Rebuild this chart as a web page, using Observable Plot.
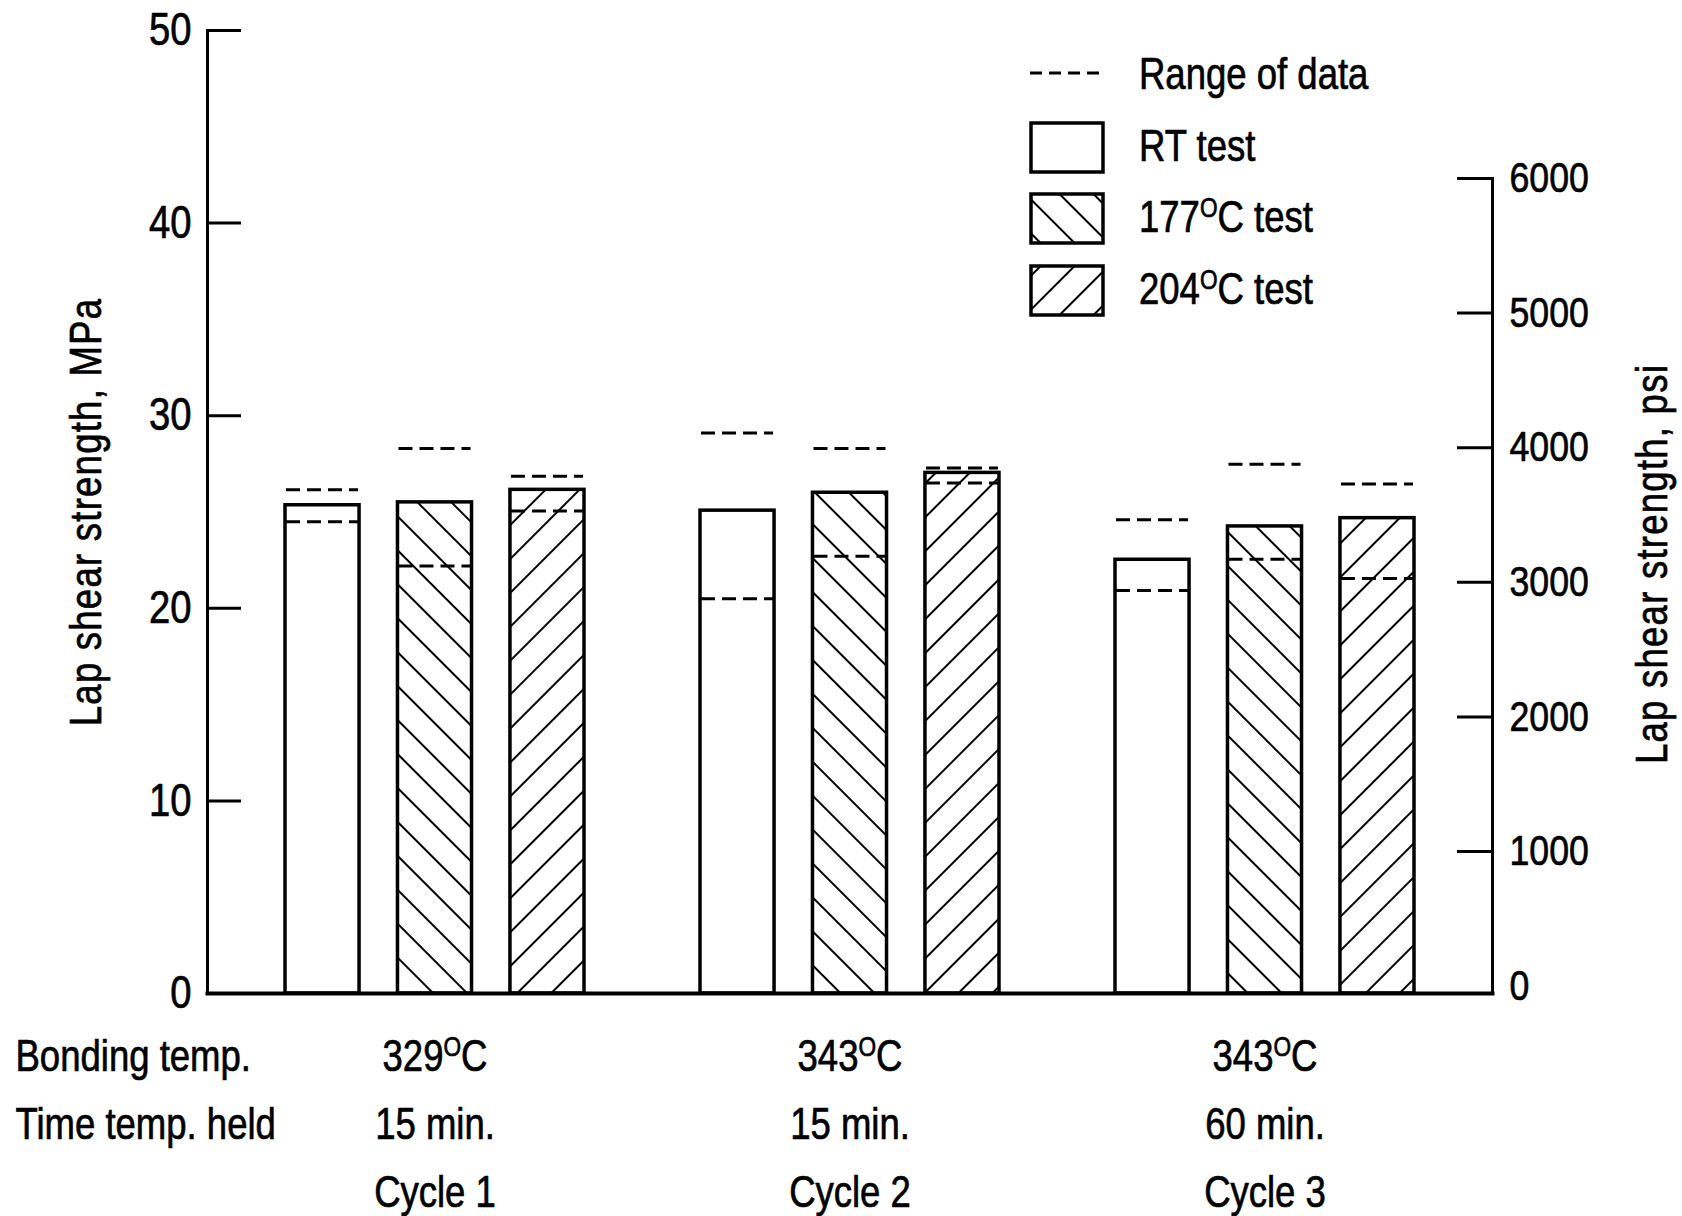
<!DOCTYPE html>
<html><head><meta charset="utf-8">
<script src="https://cdn.jsdelivr.net/npm/d3@7"></script>
<script src="https://cdn.jsdelivr.net/npm/@observablehq/plot@0.6"></script>
<style>
body{margin:0;background:#fff;}
#wrap{position:relative;width:1682px;height:1216px;background:#fff;}
#legend{position:absolute;left:0;top:0;pointer-events:none;}
#wrap text{stroke:#000;stroke-width:0.7px;}
</style></head><body>
<svg width="0" height="0" style="position:absolute">
<defs>
<pattern id="hatch177" patternUnits="userSpaceOnUse" width="24" height="24" patternTransform="rotate(-45)"><rect width="24" height="24" fill="#fff"/><line x1="12" y1="-2" x2="12" y2="26" stroke="#000" stroke-width="2"/></pattern>
<pattern id="hatch204" patternUnits="userSpaceOnUse" width="24" height="24" patternTransform="rotate(45)"><rect width="24" height="24" fill="#fff"/><line x1="12" y1="-2" x2="12" y2="26" stroke="#000" stroke-width="2"/></pattern>
</defs></svg>
<div id="wrap"></div>
<script>
// ---- data (MPa) ----
const cycles = ["Cycle 1", "Cycle 2", "Cycle 3"];
const bondTemp = ["329", "343", "343"];
const holdTime = ["15 min.", "15 min.", "60 min."];
const tests = ["RT test", "177°C test", "204°C test"];
const rtMean = [25.35, 25.07, 22.52];
const rtHigh = [26.15, 29.1, 24.6];
const rtLow = [24.5, 20.5, 20.93];
const t177Mean = [25.5, 26.0, 24.25];
const t177High = [28.3, 28.3, 27.48];
const t177Low = [22.2, 22.7, 22.55];
const t204Mean = [26.15, 27.03, 24.68];
const t204High = [26.85, 27.28, 26.45];
const t204Low = [25.05, 26.5, 21.55];
const mpaTicks = [0, 10, 20, 30, 40, 50];
const psiTicks = [0, 1000, 2000, 3000, 4000, 5000, 6000];
// secondary axis as drawn in the source (psi -> MPa)
const MPA_PER_PSI = 0.00699, PSI_ZERO_MPA = 0.38;
const toMPa = psi => PSI_ZERO_MPA + psi * MPA_PER_PSI;

const series = [
  {test: tests[0], mean: rtMean, high: rtHigh, low: rtLow, fill: "white"},
  {test: tests[1], mean: t177Mean, high: t177High, low: t177Low, fill: "url(#hatch177)"},
  {test: tests[2], mean: t204Mean, high: t204High, low: t204Low, fill: "url(#hatch204)"}
];

// ---- layout ----
const FONT = "'Liberation Sans',Arial,sans-serif";
const SX = 0.83; // horizontal condensing of the lettering
const W = 1682, H = 1216, mL = 207, mR = 190, mT = 30, mB = 223;
const innerW = W - mL - mR;
const PI = 0.279, PO = 0.184;
const step = innerW / (cycles.length - PI + 2 * PO);
const bw = step * (1 - PI);
const barW = bw * 0.25;
const gap = (bw - 3 * barW) / 2;
const yLin = d3.scaleLinear([0, 50], [H - mB, mT]);

const marks = [];
marks.push(Plot.frame({anchor: "left", strokeWidth: 3}));
marks.push(Plot.frame({anchor: "right", strokeWidth: 3, insetTop: yLin(toMPa(6000)) - mT}));
marks.push(Plot.ruleY(mpaTicks.filter(d => d > 0), {y: d => d, insetRight: innerW - 34, strokeWidth: 3}));
marks.push(Plot.text(mpaTicks, {y: d => d, text: d => String(d), frameAnchor: "left", dx: -16, textAnchor: "end", fontSize: 46}));
marks.push(Plot.ruleY(psiTicks.filter(d => d > 0), {y: toMPa, insetLeft: innerW - 35, strokeWidth: 3}));
marks.push(Plot.text(psiTicks, {y: toMPa, text: d => String(d), frameAnchor: "right", dx: 17, textAnchor: "start", fontSize: 43}));
marks.push(Plot.text(["Lap shear strength, MPa"], {frameAnchor: "left", textAnchor: "middle", rotate: -90, dx: -121, fontSize: 44}));
marks.push(Plot.text(["Lap shear strength, psi"], {frameAnchor: "right", textAnchor: "middle", rotate: -90, dx: 160, dy: 52, fontSize: 44}));

series.forEach((s, j) => {
  const rows = cycles.map((c, i) => ({cycle: c, mean: s.mean[i], high: s.high[i], low: s.low[i]}));
  const insetLeft = j * (barW + gap), insetRight = bw - insetLeft - barW;
  marks.push(Plot.barY(rows, {x: "cycle", y: "mean", fill: s.fill, stroke: "black", strokeWidth: 3.5, insetLeft, insetRight}));
  for (const k of ["high", "low"]) {
    marks.push(Plot.tickY(rows, {x: "cycle", y: k, stroke: "black", strokeWidth: 3, strokeDasharray: "14,7", insetLeft: insetLeft + 1, insetRight: insetRight + 1}));
  }
});
marks.push(Plot.frame({anchor: "bottom", strokeWidth: 4}));
marks.push(Plot.axisX({tickSize: 0, tickPadding: 29, lineHeight: 1.55, fontSize: 44, label: null,
  tickFormat: d => { const i = cycles.indexOf(d); return `${bondTemp[i]}°C\n${holdTime[i]}\n${cycles[i]}`; }}));
marks.push(Plot.text(["Bonding temp.\nTime temp. held"], {frameAnchor: "bottom-left", dx: 15 - mL, dy: 29, lineAnchor: "top", textAnchor: "start", lineHeight: 1.55, fontSize: 44}));

const chart = Plot.plot({
  width: W, height: H,
  marginLeft: mL, marginRight: mR, marginTop: mT, marginBottom: mB,
  style: {fontFamily: FONT, fontSize: "44px", background: "white", color: "black", overflow: "visible"},
  x: {domain: cycles, paddingInner: PI, paddingOuter: PO, axis: null},
  y: {domain: [0, 50], axis: null},
  marks
});
document.getElementById("wrap").appendChild(chart);

const NS = "http://www.w3.org/2000/svg";
// superscript "O" for degree
function supO(el) {
  const t = el.textContent;
  const m = t.match(/^(.*?)°C(.*)$/);
  if (!m) return;
  while (el.firstChild) el.removeChild(el.firstChild);
  el.appendChild(document.createTextNode(m[1]));
  const o = document.createElementNS(NS, "tspan");
  o.setAttribute("font-size", "0.62em"); o.setAttribute("dy", "-15");
  o.textContent = "O"; el.appendChild(o);
  const c = document.createElementNS(NS, "tspan");
  c.setAttribute("dy", "15"); c.textContent = "C" + m[2]; el.appendChild(c);
}
// condense lettering horizontally around its own anchor
function condense(el) {
  const t = el.getAttribute("transform") || "";
  const num = a => { const v = el.getAttribute(a); return v != null && /^-?[\d.]+$/.test(v.trim()) ? +v : null; };
  const x = num("x"), y = num("y");
  el.setAttribute("transform", `${t} translate(${x || 0},${y || 0}) scale(${SX},1)`);
  if (x !== null) el.setAttribute("x", 0);
  if (y !== null) el.setAttribute("y", 0);
}
d3.select(chart).selectAll("tspan").each(function(){ if (/°C/.test(this.textContent) && this.children.length === 0) supO(this); });
d3.select(chart).selectAll("text").each(function(){ if (/°C/.test(this.textContent) && this.children.length === 0) supO(this); });
d3.select(chart).selectAll("text").filter(function(){ return /Lap shear/.test(this.textContent); }).style("letter-spacing", "1.5px");
d3.select(chart).selectAll("text").each(function(){ condense(this); });

// ---- legend ----
const lg = d3.select("#wrap").append("svg").attr("id", "legend").attr("width", W).attr("height", H)
  .style("font-family", FONT).style("font-size", "44px");
lg.append("line").attr("x1", 1030).attr("x2", 1100).attr("y1", 73).attr("y2", 73)
  .attr("stroke", "black").attr("stroke-width", 3).attr("stroke-dasharray", "12,7");
condense(lg.append("text").attr("x", 1139).attr("y", 89).text("Range of data").node());
const boxes = [{y: 123, s: series[0]}, {y: 194, s: series[1]}, {y: 266, s: series[2]}];
boxes.forEach(b => {
  lg.append("rect").attr("x", 1031).attr("y", b.y).attr("width", 72).attr("height", 49)
    .attr("fill", b.s.fill).attr("stroke", "black").attr("stroke-width", 3.5);
  const t = lg.append("text").attr("x", 1139).attr("y", b.y + 38).text(b.s.test);
  supO(t.node());
  condense(t.node());
});
</script>
</body></html>
